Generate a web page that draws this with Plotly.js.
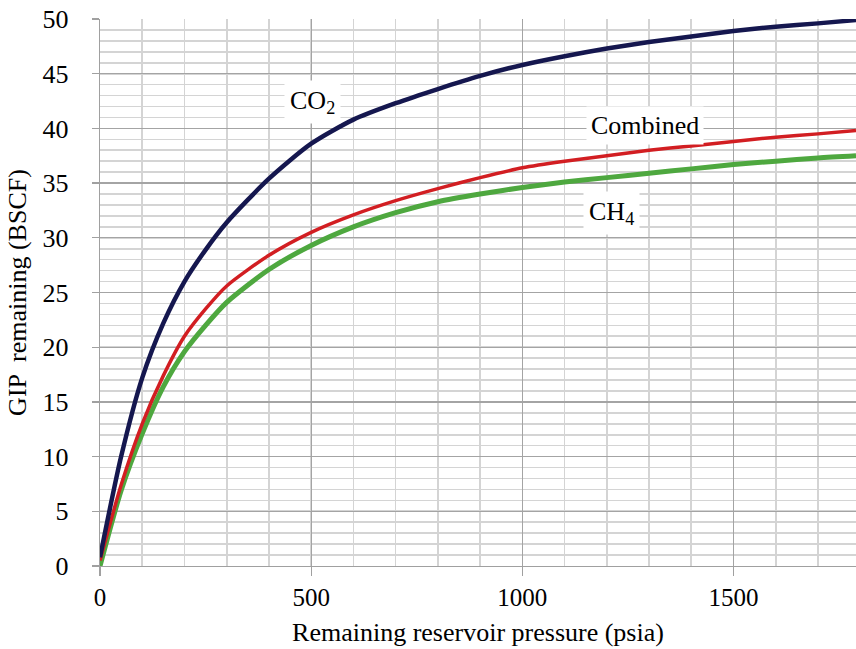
<!DOCTYPE html>
<html>
<head>
<meta charset="utf-8">
<script src="https://cdn.plot.ly/plotly-3.0.1.min.js"></script>
<style>html,body{margin:0;padding:0;background:#fff;}#chart{width:856px;height:649px;}</style>
</head>
<body>
<div id="chart"></div>
<script>
const pressure = [0, 50, 100, 150, 200, 250, 300, 400, 500, 600, 700, 800, 900, 1000, 1100, 1200, 1300, 1400, 1500, 1600, 1700, 1790];
const co2      = [0.8, 10.0, 17.2, 22.2, 26.0, 28.9, 31.4, 35.4, 38.6, 40.8, 42.3, 43.6, 44.8, 45.8, 46.6, 47.3, 47.9, 48.4, 48.9, 49.3, 49.6, 49.9];
const combined = [0.5, 7.4, 13.0, 17.4, 21.0, 23.5, 25.6, 28.4, 30.5, 32.1, 33.4, 34.5, 35.5, 36.4, 37.0, 37.5, 38.0, 38.4, 38.8, 39.2, 39.5, 39.8];
const ch4      = [0.0, 6.9, 12.1, 16.4, 19.6, 22.0, 24.1, 27.1, 29.3, 31.0, 32.3, 33.3, 34.0, 34.6, 35.1, 35.5, 35.9, 36.3, 36.7, 37.0, 37.3, 37.5];
const seriesNames = ["CO<sub>2</sub>", "Combined", "CH<sub>4</sub>"];
const xTickVals = [0, 500, 1000, 1500];
const yTickVals = [0, 5, 10, 15, 20, 25, 30, 35, 40, 45, 50];

const serif = "Liberation Serif";

const traces = [
  {x: pressure, y: ch4, mode: "lines", line: {color: "#4ea83f", width: 5, shape: "spline", smoothing: 0.7}, name: seriesNames[2]},
  {x: pressure, y: combined, mode: "lines", line: {color: "#d21e22", width: 3.5, shape: "spline", smoothing: 0.7}, name: seriesNames[1]},
  {x: pressure, y: co2, mode: "lines", line: {color: "#15174f", width: 4.5, shape: "spline", smoothing: 0.7}, name: seriesNames[0]}
];

const layout = {
  width: 856, height: 649,
  margin: {l: 100, r: 0, t: 19, b: 83},
  paper_bgcolor: "#fff", plot_bgcolor: "#fff",
  showlegend: false,
  font: {family: serif, color: "#000", size: 26},
  xaxis: {
    range: [0, 1790], tickvals: xTickVals,
    showgrid: true, gridcolor: "#a4a4a4", gridwidth: 1.3,
    minor: {dtick: 100, tick0: 0, showgrid: true, gridcolor: "#d4d4d4", gridwidth: 1.6, ticks: ""},
    ticks: "outside", ticklen: 9, tickcolor: "#a0a0a0", tickwidth: 1.3,
    showline: true, linecolor: "#a0a0a0", linewidth: 1.3,
    zeroline: false,
    tickfont: {family: serif, size: 25, color: "#000"},
    title: {text: "Remaining reservoir pressure (psia)", font: {family: serif, size: 26, color: "#000"}, standoff: 12}
  },
  yaxis: {
    range: [0, 50], tickvals: yTickVals,
    showgrid: true, gridcolor: "#a4a4a4", gridwidth: 1.3,
    minor: {dtick: 1, tick0: 0, showgrid: true, gridcolor: "#d4d4d4", gridwidth: 1.6, ticks: ""},
    ticks: "outside", ticklen: 7, tickcolor: "#a0a0a0", tickwidth: 1.3,
    showline: true, linecolor: "#a0a0a0", linewidth: 1.3,
    zeroline: false, ticklabelstandoff: 18,
    tickfont: {family: serif, size: 26, color: "#000"},
    title: {text: "GIP  remaining (BSCF)", font: {family: serif, size: 26, color: "#000"}, standoff: 8}
  },
  annotations: [
    {x: 504, y: 42.4, xref: "x", yref: "y", text: seriesNames[0], showarrow: false, bgcolor: "#fff", borderpad: 5, font: {family: serif, size: 26, color: "#000"}},
    {x: 1290, y: 40.3, xref: "x", yref: "y", text: seriesNames[1], showarrow: false, bgcolor: "#fff", borderpad: 4, font: {family: serif, size: 26, color: "#000"}},
    {x: 1212, y: 32.3, xref: "x", yref: "y", text: seriesNames[2], showarrow: false, bgcolor: "#fff", borderpad: 5, font: {family: serif, size: 26, color: "#000"}}
  ]
};

Plotly.newPlot("chart", traces, layout, {displayModeBar: false, staticPlot: true});
</script>
</body>
</html>
